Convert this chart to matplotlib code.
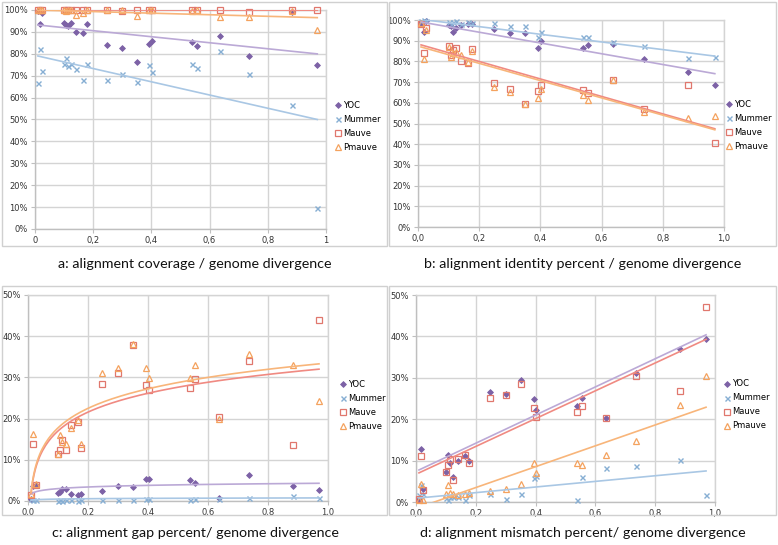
import numpy as np
import matplotlib
matplotlib.use("Agg")
import matplotlib.pyplot as plt
from matplotlib.patches import Rectangle
from matplotlib.lines import Line2D
from matplotlib.ticker import FuncFormatter, MultipleLocator

# ---------------- data ----------------
series = ["YOC", "Mummer", "Mauve", "Pmauve"]

# genome divergence (shared x values)
x_div = [0.010, 0.018, 0.025, 0.100, 0.108, 0.113, 0.125, 0.142, 0.165, 0.178,
         0.248, 0.300, 0.350, 0.393, 0.403, 0.540, 0.555, 0.636, 0.737, 0.883, 0.970]

# a: alignment coverage (%)
cov_yoc = [99.5, 93.6, 98.5, 94.2, 93.2, 92.5, 94.2, 90.0, 89.4, 93.6, 83.9, 82.5, 76.3,
           84.7, 85.7, 85.6, 83.6, 88.1, 79.2, 99.0, 74.8]
cov_mummer = [66.6, 82.2, 72.2, 75.4, 78.3, 74.6, 75.4, 72.9, 68.1, 75.2, 68.1, 70.8, 67.2,
              74.9, 71.9, 75.2, 73.4, 81.3, 70.8, 56.7, 9.6]
cov_mauve = [100, 100, 100, 99.8, 100, 100, 100, 100, 99.8, 100, 100, 99.5, 100,
             100, 100, 100, 100, 100, 99.2, 99.8, 100]
cov_pmauve = [100, 99.8, 100, 100, 99.5, 100, 100, 97.5, 98.5, 100, 100, 100, 97.2,
              100, 99.8, 99.5, 100, 97.0, 97.0, 99.5, 91.0]

# b: alignment identity percent (%)
idn_yoc = [98.7, 94.4, 99.7, 97.6, 97.1, 94.4, 96.0, 97.6, 97.9, 97.9, 95.5, 93.5, 93.5,
           86.6, 89.8, 86.6, 87.9, 88.4, 81.1, 75.0, 68.5]
idn_mummer = [99.5, 99.8, 99.6, 98.8, 98.2, 99.0, 99.5, 98.0, 99.2, 98.5, 98.4, 97.3, 97.3,
              91.9, 94.4, 91.9, 91.9, 89.5, 87.6, 81.5, 81.9]
idn_mauve = [97.9, 84.2, 96.0, 87.6, 83.1, 85.5, 86.3, 80.2, 79.4, 85.8, 69.7, 66.5, 59.4,
             65.6, 68.5, 66.1, 64.5, 71.0, 56.9, 68.5, 40.6]
idn_pmauve = [98.4, 81.0, 95.2, 87.1, 82.3, 83.9, 84.7, 83.1, 79.8, 85.2, 67.4, 65.0, 59.4,
              62.1, 66.5, 64.0, 61.3, 71.0, 55.6, 52.7, 53.5]

# c: alignment gap percent (%)
gap_yoc = [0.5, 3.6, 3.8, 2.0, 2.2, 3.0, 3.0, 1.6, 1.4, 1.8, 2.4, 3.6, 3.4,
           5.4, 5.4, 5.2, 4.4, 0.7, 6.4, 3.6, 2.6]
gap_mummer = [0.6, 0.2, 0.3, 0.1, 0.2, 0.1, 0.3, 0.2, 0.1, 0.3, 0.2, 0.2, 0.3,
              0.6, 0.5, 0.2, 0.6, 0.6, 0.8, 1.3, 0.8]
gap_mauve = [1.4, 13.8, 3.8, 11.3, 12.5, 14.7, 12.3, 18.4, 19.2, 12.9, 28.5, 31.1, 37.8,
             28.1, 26.9, 27.5, 29.6, 20.4, 34.0, 13.5, 43.9]
gap_pmauve = [1.8, 16.2, 4.2, 11.5, 16.0, 14.3, 13.9, 17.6, 19.6, 13.9, 31.1, 32.4, 38.0,
              32.2, 29.9, 29.9, 33.0, 20.0, 35.7, 33.0, 24.3]

# d: alignment mismatch percent (%)
mis_yoc = [0.8, 12.7, 3.2, 7.3, 11.3, 9.3, 6.0, 9.9, 11.0, 9.9, 26.6, 26.0, 29.4,
           25.0, 22.2, 23.1, 25.2, 20.3, 31.2, 36.9, 39.4]
mis_mummer = [1.6, 4.0, 1.9, 1.0, 0.4, 1.2, 1.2, 1.2, 0.4, 1.6, 2.0, 0.8, 2.0,
              5.9, 6.2, 0.6, 6.0, 8.3, 8.6, 10.1, 1.6]
mis_mauve = [0.8, 11.1, 2.8, 7.3, 8.9, 10.3, 5.4, 10.5, 11.3, 9.3, 25.2, 25.8, 28.4,
             22.8, 20.6, 21.8, 23.1, 20.2, 30.4, 26.8, 47.2]
mis_pmauve = [0.4, 4.4, 0.4, 2.0, 4.0, 2.2, 2.0, 1.8, 2.0, 2.2, 2.7, 3.2, 4.3,
              9.4, 7.0, 9.3, 8.9, 11.3, 14.8, 23.4, 30.5]

# trendline coefficients (YOC, Mummer, Mauve, Pmauve)
trend_a_slope = [-13.75, -30.2, -0.1, -3.6]
trend_a_inter = [93.3, 79.3, 100.0, 100.0]
trend_b_slope = [-26.0, -18.5, -42.2, -41.7]
trend_b_inter = [99.3, 100.5, 88.4, 87.4]
trend_c_logcoef = [0.57, 0.12, 6.6, 6.84]      # y = a*ln(x) + b
trend_c_const = [4.32, 0.75, 32.2, 33.5]
trend_d_slope = [34.0, 6.8, 33.6, 25.2]
trend_d_inter = [7.4, 0.9, 6.7, -1.55]

titles = ["a: alignment coverage / genome divergence",
          "b: alignment identity percent / genome divergence",
          "c: alignment gap percent/ genome divergence",
          "d: alignment mismatch percent/ genome divergence"]

# ---------------- styles ----------------
mk_style = {
    "YOC": dict(marker="D", ms=3.0, mfc="#7D62A6", mec="#7D62A6", mew=0.6),
    "Mummer": dict(marker="x", ms=3.6, mfc="none", mec="#86AED3", mew=1.0),
    "Mauve": dict(marker="s", ms=4.3, mfc="none", mec="#E0776D", mew=0.9),
    "Pmauve": dict(marker="^", ms=4.3, mfc="none", mec="#F4A25E", mew=0.9),
}
trend_color = {"YOC": "#BBA9D6", "Mummer": "#A9C7E4", "Mauve": "#F08A82", "Pmauve": "#F8B57A"}

W, H = 778, 545
fig = plt.figure(figsize=(W / 100, H / 100), dpi=100)
fig.patch.set_facecolor("white")


def frac(x0, y0, x1, y1):
    return [x0 / W, 1 - y1 / H, (x1 - x0) / W, (y1 - y0) / H]


panels = [
    dict(box=(2, 2, 387, 246), ax=(35, 10, 326, 229), ymax=100, xfmt="a", leg=(1.03, 0.47),
         title_xy=(195, 264),
         data=[cov_yoc, cov_mummer, cov_mauve, cov_pmauve], kind="lin",
         c1=trend_a_slope, c0=trend_a_inter),
    dict(box=(389, 2, 776, 246), ax=(418, 20, 724, 227), ymax=100, xfmt="b", leg=(1.005, 0.49),
         title_xy=(583, 264),
         data=[idn_yoc, idn_mummer, idn_mauve, idn_pmauve], kind="lin",
         c1=trend_b_slope, c0=trend_b_inter),
    dict(box=(2, 286, 387, 515), ax=(28, 295, 328, 501), ymax=50, xfmt="b", leg=(1.04, 0.466),
         title_xy=(195, 533),
         data=[gap_yoc, gap_mummer, gap_mauve, gap_pmauve], kind="log",
         c1=trend_c_logcoef, c0=trend_c_const),
    dict(box=(389, 286, 776, 515), ax=(416, 295, 715, 502), ymax=50, xfmt="b", leg=(1.03, 0.469),
         title_xy=(583, 533),
         data=[mis_yoc, mis_mummer, mis_mauve, mis_pmauve], kind="lin",
         c1=trend_d_slope, c0=trend_d_inter),
]

grid_c = "#D4D4D4"
for i, p in enumerate(panels):
    bx0, by0, bx1, by1 = p["box"]
    fig.patches.append(Rectangle((bx0 / W, 1 - by1 / H), (bx1 - bx0) / W, (by1 - by0) / H,
                                 transform=fig.transFigure, fill=False,
                                 edgecolor="#D0D0D0", linewidth=1.0, zorder=0))
    ax = fig.add_axes(frac(*p["ax"]))
    ax.set_xlim(0, 1)
    ax.set_ylim(0, p["ymax"])
    ax.xaxis.set_major_locator(MultipleLocator(0.2))
    ax.yaxis.set_major_locator(MultipleLocator(10))
    if p["xfmt"] == "a":
        ax.xaxis.set_major_formatter(FuncFormatter(
            lambda v, pos: ("%g" % round(v, 1)).replace(".", ",")))
    else:
        ax.xaxis.set_major_formatter(FuncFormatter(
            lambda v, pos: ("%.1f" % v).replace(".", ",")))
    ax.yaxis.set_major_formatter(FuncFormatter(lambda v, pos: "%d%%" % round(v)))
    ax.grid(True, color=grid_c, linewidth=1.0)
    ax.set_axisbelow(True)
    for s in ax.spines.values():
        s.set_color(grid_c)
        s.set_linewidth(1.0)
    ax.spines["left"].set_color("#BFBFBF")
    ax.spines["bottom"].set_color("#BFBFBF")
    ax.tick_params(axis="both", labelsize=6, colors="#BFBFBF", labelcolor="#333333",
                   length=3, width=0.8, pad=2)

    xs = np.array(x_div)
    xl = np.linspace(xs.min(), xs.max(), 200)
    handles = []
    for k, name in enumerate(series):
        ax.plot(xs, p["data"][k], linestyle="none", clip_on=False, zorder=3 + k,
                **mk_style[name])
        handles.append(Line2D([], [], linestyle="none", **mk_style[name]))
        if p["kind"] == "lin":
            yl = p["c1"][k] * xl + p["c0"][k]
        else:
            yl = p["c1"][k] * np.log(xl) + p["c0"][k]
        ax.plot(xl, yl, color=trend_color[name], linewidth=1.2, zorder=8)

    ax.legend(handles, series, loc="center left", bbox_to_anchor=p["leg"], frameon=False,
              fontsize=6, handlelength=0.8, handletextpad=0.2, labelspacing=0.6,
              borderpad=0, borderaxespad=0)

    fig.text(p["title_xy"][0] / W, 1 - p["title_xy"][1] / H, titles[i],
             ha="center", va="center", fontsize=10.3, family="Lato", color="#111111")

fig.savefig("out.png", dpi=100, facecolor="white")
